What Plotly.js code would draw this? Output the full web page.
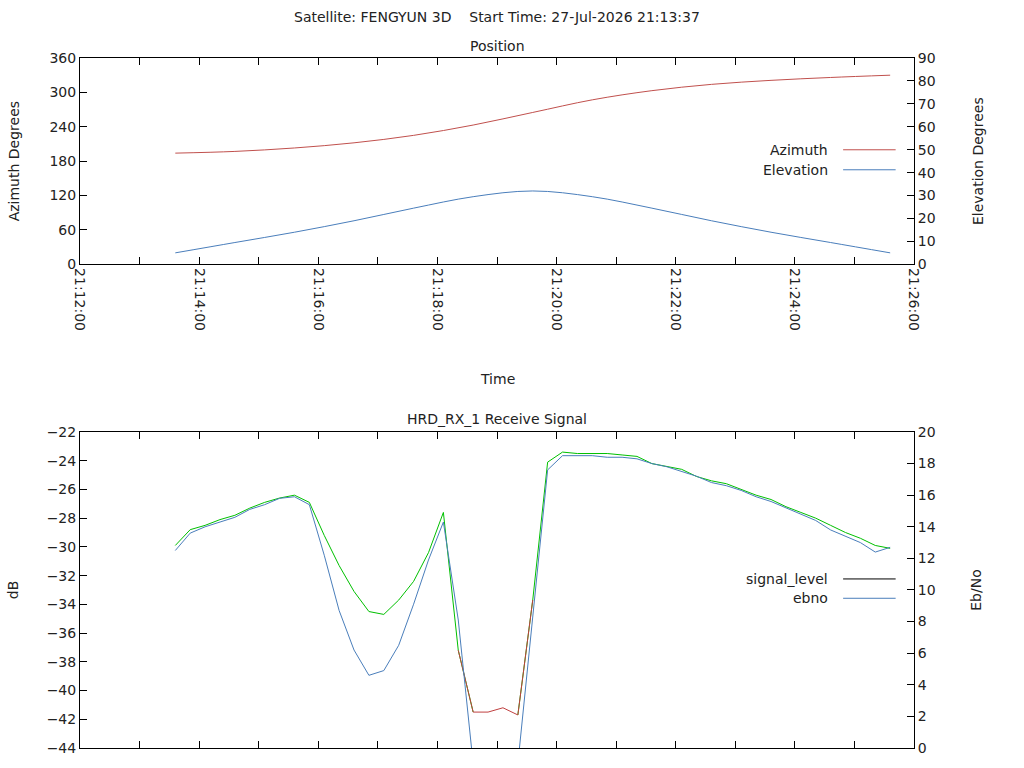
<!DOCTYPE html>
<html>
<head>
<script src="https://cdn.plot.ly/plotly-3.0.1.min.js"></script>
<style>body{margin:0;background:#fff}#plot{width:1024px;height:768px}</style>
</head>
<body>
<div id="plot"></div>
<script>
// position pass, one sample per minute from AOS
const posTimes = ['21:13:36','21:14:36','21:15:36','21:16:36','21:17:36','21:18:36','21:19:36',
  '21:20:36','21:21:36','21:22:36','21:23:36','21:24:36','21:25:36'];
const azimuth = [194,197,203,212,225,243,265,287,303,314,321,326,330];
const elevation = [5,9.5,14,19,24.5,29.5,32,29.5,24.5,19,14,9.5,5];

// receive signal, one sample every 15 s
const sigStart = '21:13:36';
const signalLevel = [-29.9,-28.8,-28.5,-28.1,-27.8,-27.3,-26.9,-26.6,-26.4,-26.9,-29.2,-31.3,-33.1,-34.5,
  -34.7,-33.7,-32.4,-30.4,-27.6,-37.2,-41.5,-41.5,-41.2,-41.7,-33.7,-24.1,-23.4,-23.5,-23.5,-23.5,
  -23.6,-23.7,-24.2,-24.4,-24.6,-25.1,-25.4,-25.6,-26.0,-26.4,-26.7,-27.2,-27.6,-28.0,-28.5,-29.0,
  -29.4,-29.9,-30.1];
const ebno = [12.5,13.6,14.0,14.3,14.6,15.1,15.4,15.8,15.9,15.4,12.2,8.7,6.2,4.6,4.9,6.5,9.1,11.9,14.3,
  8.1,-1,-2,-2,-1,8.1,17.6,18.5,18.5,18.5,18.4,18.4,18.3,18.0,17.8,17.5,17.2,16.8,16.6,16.3,15.9,
  15.6,15.2,14.8,14.4,13.8,13.4,13.0,12.4,12.7];
const lowThreshold = -38;

const day = '2026-07-27 ';
const pt = posTimes.map(t => day + t);
const st = [];
let base = new Date('2026-07-27T' + sigStart + 'Z').getTime();
for (let i = 0; i < signalLevel.length; i++) {
  st.push(new Date(base + i * 15000).toISOString().replace('T', ' ').slice(0, 19));
}
// split signal into good (green) and low (red) pieces, keeping joins
const good = signalLevel.map((v, i) => (v >= lowThreshold || (signalLevel[i-1] >= lowThreshold) || (signalLevel[i+1] >= lowThreshold)) ? v : null);
const low = signalLevel.map((v, i) => (v < lowThreshold || (signalLevel[i-1] < lowThreshold) || (signalLevel[i+1] < lowThreshold)) ? v : null);

const data = [
  {x: pt, y: azimuth, xaxis: 'x', yaxis: 'y', mode: 'lines', line: {color: '#c0504d', width: 1, shape: 'spline'}},
  {x: pt, y: elevation, xaxis: 'x', yaxis: 'y2', mode: 'lines', line: {color: '#4a7ebb', width: 1, shape: 'spline'}},
  {x: st, y: ebno, xaxis: 'x2', yaxis: 'y4', mode: 'lines', line: {color: '#4a7ebb', width: 1}},
  {x: st, y: good, xaxis: 'x2', yaxis: 'y3', mode: 'lines', line: {color: '#00c000', width: 1}},
  {x: st, y: low, xaxis: 'x2', yaxis: 'y3', mode: 'lines', line: {color: '#c04040', width: 1}}
];

const font = {family: 'DejaVu Sans, sans-serif', size: 14, color: '#222'};
const xr = [day + '21:12:00', day + '21:26:00'];
const axBase = {showline: true, linecolor: '#000', linewidth: 1, ticks: 'inside', ticklen: 7,
  tickcolor: '#000', showgrid: false, zeroline: false};
const xBase = Object.assign({}, axBase, {type: 'date', range: xr, dtick: 120000,
  tick0: day + '21:12:00', mirror: 'allticks',
  minor: {ticks: 'inside', ticklen: 4, dtick: 60000, tickcolor: '#000'}});

function ann(text, y, x, anchor) {
  return {text: text, xref: 'paper', yref: 'paper', x: x === undefined ? 0.5 : x, y: y,
    xanchor: anchor || 'center', yanchor: 'middle', showarrow: false, font: font};
}
function key(y, color) {
  return {type: 'line', xref: 'paper', yref: 'paper', x0: 0.915, x1: 0.978, y0: y, y1: y, line: {color: color, width: 1}};
}

const layout = {
  width: 1024, height: 768, font: font, showlegend: false,
  paper_bgcolor: '#fff', plot_bgcolor: '#fff',
  margin: {l: 80, r: 110, t: 58, b: 20},
  xaxis: Object.assign({}, xBase, {anchor: 'y', domain: [0, 1], tickformat: '%H:%M:%S', tickangle: 90}),
  yaxis: Object.assign({}, axBase, {domain: [0.701, 1], range: [0, 360], dtick: 60, mirror: true,
    title: {text: 'Azimuth Degrees', standoff: 26, font: font}}),
  yaxis2: Object.assign({}, axBase, {overlaying: 'y', side: 'right', anchor: 'x', range: [0, 90], dtick: 10,
    title: {text: 'Elevation Degrees', standoff: 38, font: font}}),
  xaxis2: Object.assign({}, xBase, {anchor: 'y3', domain: [0, 1], showticklabels: false}),
  yaxis3: Object.assign({}, axBase, {domain: [0, 0.458], range: [-44, -22], dtick: 2, mirror: true,
    title: {text: 'dB', standoff: 24, font: font}}),
  yaxis4: Object.assign({}, axBase, {overlaying: 'y3', side: 'right', anchor: 'x2', range: [0, 20], dtick: 2,
    title: {text: 'Eb/No', standoff: 36, font: font}}),
  annotations: [
    ann('Satellite: FENGYUN 3D&nbsp;&nbsp;&nbsp;&nbsp;Start Time: 27-Jul-2026 21:13:37', 1.059),
    ann('Position', 1.017),
    ann('Time', 0.535),
    ann('HRD_RX_1 Receive Signal', 0.477),
    ann('Azimuth', 0.867, 0.899, 'right'),
    ann('Elevation', 0.838, 0.899, 'right'),
    ann('signal_level', 0.245, 0.899, 'right'),
    ann('ebno', 0.217, 0.899, 'right')
  ],
  shapes: [key(0.867, '#c0504d'), key(0.838, '#4a7ebb'), key(0.245, '#000'), key(0.217, '#4a7ebb')]
};

Plotly.newPlot('plot', data, layout, {displayModeBar: false});
</script>
</body>
</html>
